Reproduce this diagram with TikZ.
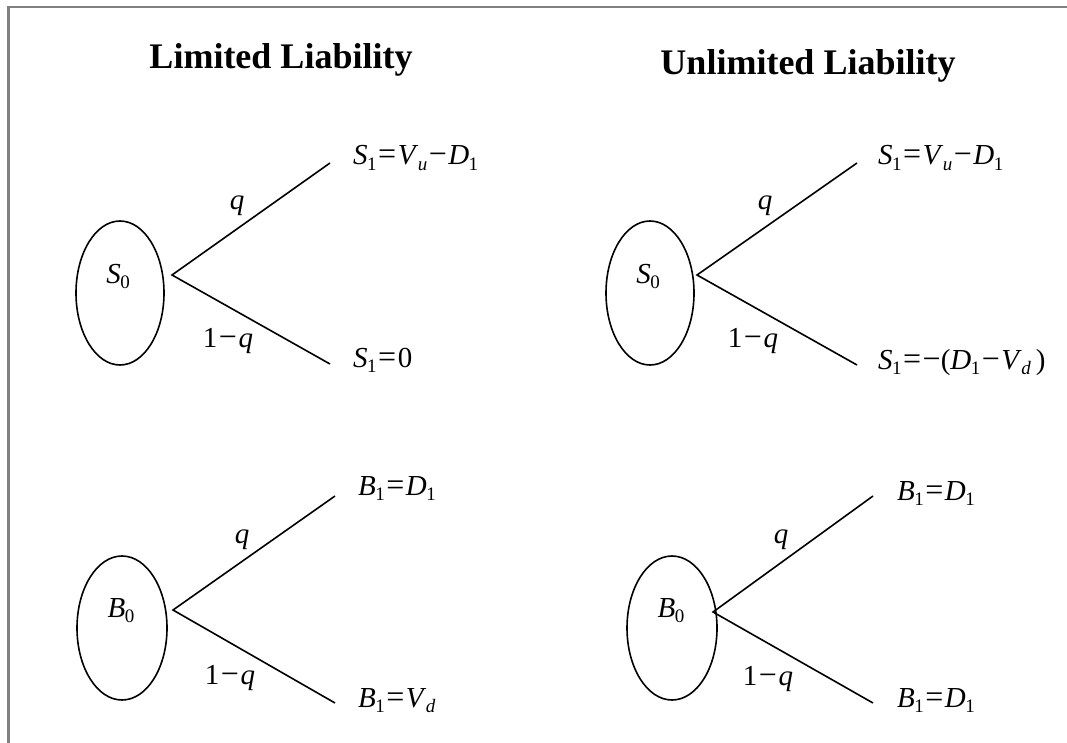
\documentclass[tikz,border=0pt]{standalone}
\usepackage{fontspec}
\setmainfont{Liberation Serif}
\usetikzlibrary{shapes.geometric}
\definecolor{framegray}{HTML}{808080}
\newcommand{\vsub}[2]{\textit{#1}\kern-0.5pt\raisebox{-5.5pt}{\fontsize{19}{19}\selectfont #2}}
\newcommand{\opeq}{\kern1.5pt{\fontsize{32}{32}\selectfont =}\kern1.5pt}
\newcommand{\opminus}{\kern1.5pt{\fontsize{32}{32}\selectfont −}\kern1.5pt}

\begin{document}
\begin{tikzpicture}[x=1pt, y=-1pt,
  state/.style={ellipse, draw, line width=1.6pt, minimum width=88pt,
    minimum height=144pt, inner sep=0pt},
  branch/.style={line width=1.6pt},
  lab/.style={font=\fontsize{29}{31}\selectfont, inner sep=0pt},
  leaf/.style={lab, anchor=base west},
  heading/.style={font=\fontsize{36}{40}\selectfont\bfseries, anchor=base}]
\useasboundingbox (0,0) rectangle (1067,743);
\draw[framegray, line width=2.5pt] (8.5,743) -- (8.5,7) -- (1067,7);
% ---------------- headings ----------------
\node[heading] (limhead) at (281,69) {Limited Liability};
\node[heading] (unlimhead) at (808,75) {Unlimited Liability};
% ---------------- limited, stock ----------------
\node[state] (sl) at (120,293) {};
\node[lab, anchor=base] (sllab) at (118,283) {\vsub{S}{0}};
\coordinate (sla) at (172,275);
\coordinate (slu) at (330,163);
\coordinate (sld) at (330,364);
\draw[branch] (slu) -- (sla) -- (sld);
\node[lab] (slq) at (237,206) {\textit{q}};
\node[lab] (slp) at (228,341) {1\opminus\textit{q}};
\node[leaf] (slut) at (353,165) {\vsub{S}{1}\opeq\vsub{V}{\textit{u}}\opminus\vsub{D}{1}};
\node[leaf] (sldt) at (353,367) {\vsub{S}{1}\opeq 0};
% ---------------- unlimited, stock ----------------
\node[state] (su) at (650,293) {};
\node[lab, anchor=base] (sulab) at (648,283) {\vsub{S}{0}};
\coordinate (sua) at (697,275);
\coordinate (suu) at (857,163);
\coordinate (sud) at (857,365);
\draw[branch] (suu) -- (sua) -- (sud);
\node[lab] (suq) at (765,206) {\textit{q}};
\node[lab] (sup) at (753,341) {1\opminus\textit{q}};
\node[leaf] (suut) at (878,165) {\vsub{S}{1}\opeq\vsub{V}{\textit{u}}\opminus\vsub{D}{1}};
\node[leaf] (sudt) at (878,369) {\vsub{S}{1}\opeq{\fontsize{32}{32}\selectfont −}(\vsub{D}{1}\opminus\vsub{V}{\textit{d}}\,)};
% ---------------- limited, bond ----------------
\node[state, minimum width=90pt] (bl) at (122,628) {};
\node[lab, anchor=base] (bllab) at (121,617) {\vsub{B}{0}};
\coordinate (bla) at (173,610);
\coordinate (blu) at (335,496);
\coordinate (bld) at (335,703);
\draw[branch] (blu) -- (bla) -- (bld);
\node[lab] (blq) at (242,540) {\textit{q}};
\node[lab] (blp) at (230,678) {1\opminus\textit{q}};
\node[leaf] (blut) at (358,495) {\vsub{B}{1}\opeq\vsub{D}{1}};
\node[leaf] (bldt) at (358,707) {\vsub{B}{1}\opeq\vsub{V}{\textit{d}}};
% ---------------- unlimited, bond ----------------
\node[state, minimum width=90pt] (bu) at (672,628) {};
\node[lab, anchor=base] (bulab) at (671,617) {\vsub{B}{0}};
\coordinate (bua) at (713,612);
\coordinate (buu) at (873,496);
\coordinate (bud) at (873,703);
\draw[branch] (buu) -- (bua) -- (bud);
\node[lab] (buq) at (781,540) {\textit{q}};
\node[lab] (bup) at (768,679) {1\opminus\textit{q}};
\node[leaf] (buut) at (897,500) {\vsub{B}{1}\opeq\vsub{D}{1}};
\node[leaf] (budt) at (897,707) {\vsub{B}{1}\opeq\vsub{D}{1}};
\end{tikzpicture}
\end{document}
